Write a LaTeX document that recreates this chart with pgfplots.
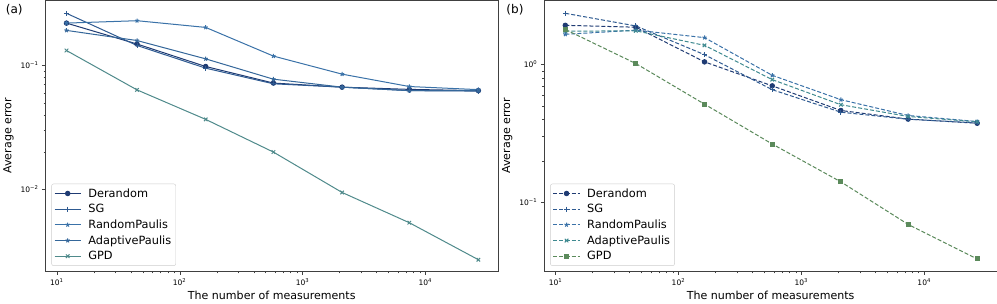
\documentclass[border=0pt]{standalone}
\usepackage{pgfplots}
\pgfplotsset{compat=1.18}
\usepackage{fontspec}
\setmainfont{DejaVu Sans}
\definecolor{cDer}{HTML}{1F3B73}
\definecolor{cSG}{HTML}{2E5A91}
\definecolor{cRP}{HTML}{3A72A8}
\definecolor{cAPa}{HTML}{35679A}
\definecolor{cGPDa}{HTML}{4F8A8B}
\definecolor{cAPb}{HTML}{3F8A90}
\definecolor{cGPDb}{HTML}{5B8A5B}
\begin{document}
\begin{tikzpicture}
\begin{axis}[xmode=log, ymode=log, clip=false,
    scale only axis,
    width=449bp, height=269bp,
    xmin=8.1, xmax=39000,
    ymin=0.00216, ymax=0.337,
    axis line style={black!75},
    tick align=outside,
    xtick pos=bottom, ytick pos=left,
    major tick length=3.5bp, minor tick length=2bp,
    tick style={black!75},
    xtick={10,100,1000,10000},
    xticklabels={10\textsuperscript{1},10\textsuperscript{2},10\textsuperscript{3},10\textsuperscript{4}},
    ytick={0.01,0.1}, yticklabels={10\textsuperscript{−2},10\textsuperscript{−1}},
    tick label style={font=\fontsize{7.5}{8}\selectfont},
    label style={font=\fontsize{11}{13}\selectfont},
    xlabel={The number of measurements},
    ylabel={Average error},
    xlabel style={yshift=1bp},
    legend cell align=left,
    legend image code/.code={\draw[mark repeat=2,mark phase=2,#1] plot coordinates {(0bp,0bp) (13bp,0bp) (26bp,0bp)};},
    legend style={at={(0.013,0.02)}, anchor=south west, draw=black!20, rounded corners=2pt,
      font=\fontsize{11.3}{13}\selectfont, inner sep=2.5pt, row sep=1.6pt, column sep=5bp},
  ]
\addplot[color=cDer, line width=1pt, mark=*, mark size=2.2pt] coordinates {(12,0.22) (45,0.149) (163,0.098) (580,0.072) (2100,0.0667) (7400,0.064) (27000,0.0625)};
\addlegendentry{Derandom}
\addplot[color=cSG, line width=1pt, mark=+, mark size=2.5pt] coordinates {(12,0.264) (45,0.145) (163,0.095) (580,0.071) (2100,0.0667) (7400,0.0625) (27000,0.062)};
\addlegendentry{SG}
\addplot[color=cRP, line width=1pt, mark=star, mark size=2.2pt] coordinates {(12,0.22) (45,0.23) (163,0.203) (580,0.119) (2100,0.085) (7400,0.0675) (27000,0.0637)};
\addlegendentry{RandomPaulis}
\addplot[color=cAPa, line width=1pt, mark=star, mark size=2.2pt] coordinates {(12,0.192) (45,0.159) (163,0.113) (580,0.0774) (2100,0.0667) (7400,0.0625) (27000,0.0625)};
\addlegendentry{AdaptivePaulis}
\addplot[color=cGPDa, line width=1pt, mark=x, mark size=2.5pt] coordinates {(12,0.132) (45,0.0634) (163,0.0366) (580,0.0199) (2100,0.00938) (7400,0.00534) (27000,0.00268)};
\addlegendentry{GPD}
\node[font=\fontsize{12}{14}\selectfont] at (rel axis cs:-0.069,0.965) {(a)};
\end{axis}
\begin{axis}[xshift=495bp, xmode=log, ymode=log, clip=false,
    scale only axis,
    width=449bp, height=269bp,
    xmin=8.1, xmax=39000,
    ymin=0.0313, ymax=2.94,
    axis line style={black!75},
    tick align=outside,
    xtick pos=bottom, ytick pos=left,
    major tick length=3.5bp, minor tick length=2bp,
    tick style={black!75},
    xtick={10,100,1000,10000},
    xticklabels={10\textsuperscript{1},10\textsuperscript{2},10\textsuperscript{3},10\textsuperscript{4}},
    ytick={0.1,1}, yticklabels={10\textsuperscript{−1},10\textsuperscript{0}},
    tick label style={font=\fontsize{7.5}{8}\selectfont},
    label style={font=\fontsize{11}{13}\selectfont},
    xlabel={The number of measurements},
    ylabel={Average error},
    xlabel style={yshift=1bp},
    legend cell align=left,
    legend image code/.code={\draw[mark repeat=2,mark phase=2,#1] plot coordinates {(0bp,0bp) (13bp,0bp) (26bp,0bp)};},
    legend style={at={(0.013,0.02)}, anchor=south west, draw=black!20, rounded corners=2pt,
      font=\fontsize{11.3}{13}\selectfont, inner sep=2.5pt, row sep=1.6pt, column sep=5bp},
  ]
\addplot[color=cDer, line width=1pt, dash pattern=on 4pt off 2pt, mark=*, mark size=2.2pt, mark options={solid}] coordinates {(12,1.93) (45,1.87) (163,1.046) (580,0.70) (2100,0.463) (7400,0.401) (27000,0.374)};
\addlegendentry{Derandom}
\addplot[color=cSG, line width=1pt, dash pattern=on 4pt off 2pt, mark=+, mark size=2.5pt, mark options={solid}] coordinates {(12,2.36) (45,1.91) (163,1.18) (580,0.656) (2100,0.45) (7400,0.40) (27000,0.376)};
\addlegendentry{SG}
\addplot[color=cRP, line width=1pt, dash pattern=on 4pt off 2pt, mark=star, mark size=2.2pt, mark options={solid}] coordinates {(12,1.66) (45,1.78) (163,1.57) (580,0.835) (2100,0.555) (7400,0.426) (27000,0.385)};
\addlegendentry{RandomPaulis}
\addplot[color=cAPb, line width=1pt, dash pattern=on 4pt off 2pt, mark=x, mark size=2.5pt, mark options={solid}] coordinates {(12,1.75) (45,1.76) (163,1.38) (580,0.777) (2100,0.51) (7400,0.419) (27000,0.383)};
\addlegendentry{AdaptivePaulis}
\addplot[color=cGPDb, line width=1pt, dash pattern=on 4pt off 2pt, mark=square*, mark size=2pt, mark options={solid}] coordinates {(12,1.80) (45,1.017) (163,0.515) (580,0.264) (2100,0.14) (7400,0.0687) (27000,0.0385)};
\addlegendentry{GPD}
\node[font=\fontsize{12}{14}\selectfont] at (rel axis cs:-0.065,0.965) {(b)};
\end{axis}
\end{tikzpicture}
\end{document}
